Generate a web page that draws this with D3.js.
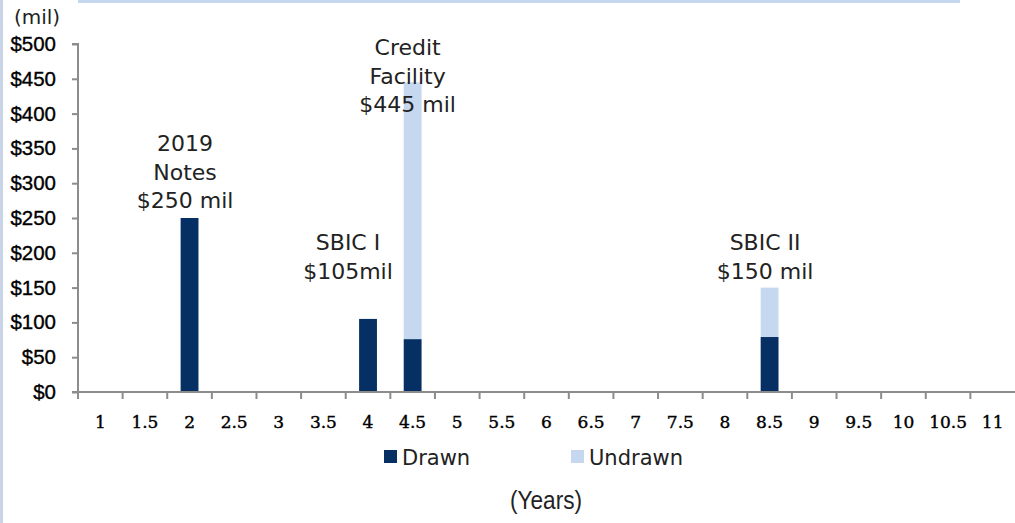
<!DOCTYPE html>
<html>
<head>
<meta charset="utf-8">
<script src="https://cdn.jsdelivr.net/npm/d3@7"></script>
<style>
  body { margin: 0; background: #fff; }
  .axis path, .axis line { stroke: #8c8c8c; stroke-width: 2; }
  .ylab text { font-family: "Liberation Sans", Arial, sans-serif; font-size: 20.5px; fill: #000; stroke: #000; stroke-width: 0.35px; }
  .xlab text { font-family: "DejaVu Serif", serif; font-size: 17px; fill: #000; stroke: #000; stroke-width: 0.4px; }
  .note { font-family: "DejaVu Sans", sans-serif; font-size: 22px; fill: #222; }
</style>
</head>
<body>
<div class="chart"></div>
<script>
// Data
let years = ["1","1.5","2","2.5","3","3.5","4","4.5","5","5.5","6","6.5","7","7.5","8","8.5","9","9.5","10","10.5","11"];
let drawn =   [0,0,250,0,0,0,105,76,0,0,0,0,0,0,0,79,0,0,0,0,0];
let undrawn = [0,0,0,0,0,0,0,369,0,0,0,0,0,0,0,71,0,0,0,0,0];
let yTicks = [0,50,100,150,200,250,300,350,400,450,500];
let notes = [
  { year: "2", at: 346, lines: ["2019", "Notes", "$250 mil"], dx: -4.5 },
  { year: "4", at: 204, lines: ["SBIC I", "$105mil"], dx: -20 },
  { year: "4.5", at: 484, lines: ["Credit", "Facility", "$445 mil"], dx: -5 },
  { year: "8.5", at: 204, lines: ["SBIC II", "$150 mil"], dx: -4.5 }
];

let svgWidth = 1015;
let svgHeight = 523;
let margin = { top: 44, right: 0, bottom: 131, left: 78 };
let chartWidth = svgWidth - margin.left - margin.right;
let chartHeight = svgHeight - margin.top - margin.bottom;

let svg = d3.select(".chart")
  .append("svg")
  .attr("width", svgWidth)
  .attr("height", svgHeight);

// frame decorations
svg.append("rect").attr("x", 0).attr("y", 0).attr("width", 3).attr("height", svgHeight).attr("fill", "#c9d5e6");
svg.append("rect").attr("x", 78).attr("y", 0).attr("width", 882).attr("height", 3).attr("fill", "#c5d8ef");

let chart = svg.append("g")
  .attr("transform", `translate(${margin.left}, ${margin.top})`);

let xTick = d3.scaleBand().domain(years).range([0, chartWidth]);
let y = d3.scaleLinear().domain([0, 500]).range([chartHeight, 0]);

// bars
let stack = years.map((d, i) => ({ year: d, drawn: drawn[i], undrawn: undrawn[i] }));
let series = d3.stack().keys(["drawn", "undrawn"])(stack);
let colors = { drawn: "#062f63", undrawn: "#c5d8ef" };

chart.selectAll("g.series")
  .data(series)
  .enter().append("g")
  .attr("fill", d => colors[d.key])
  .selectAll("rect")
  .data(d => d.filter(p => p[1] > p[0]))
  .enter().append("rect")
  .attr("x", d => xTick(d.data.year) + xTick.bandwidth() * 0.3)
  .attr("width", xTick.bandwidth() * 0.4)
  .attr("y", d => y(d[1]))
  .attr("height", d => y(d[0]) - y(d[1]));

// y axis
let leftAxis = d3.axisLeft(y).tickValues(yTicks).tickSize(6).tickPadding(16).tickFormat(d => "$" + d);
let gy = chart.append("g").attr("class", "axis ylab").call(leftAxis);
gy.select(".domain").attr("d", `M-6,0H0V${chartHeight}H-6`);

// x axis (ticks between categories)
let gx = chart.append("g").attr("class", "axis xlab")
  .attr("transform", `translate(0, ${chartHeight})`);
gx.append("path").attr("class", "domain").attr("d", `M0,0H${chartWidth}`).attr("fill", "none");
gx.selectAll("line")
  .data(years)
  .enter().append("line")
  .attr("x1", d => xTick(d)).attr("x2", d => xTick(d))
  .attr("y1", 0).attr("y2", 7);
gx.selectAll("text")
  .data(years)
  .enter().append("text")
  .attr("x", d => xTick(d) + xTick.bandwidth() / 2)
  .attr("y", 36)
  .attr("text-anchor", "middle")
  .text(d => d);

// annotations
notes.forEach(function(n) {
  let cx = xTick(n.year) + xTick.bandwidth() / 2 + n.dx;
  let t = chart.append("text").attr("class", "note").attr("text-anchor", "middle");
  n.lines.forEach(function(l, i) {
    t.append("tspan").attr("x", cx).attr("y", y(n.at) + i * 28.5).text(l);
  });
});

// unit label
svg.append("text")
  .attr("x", 37).attr("y", 24)
  .attr("text-anchor", "middle")
  .attr("class", "note")
  .style("font-size", "20px")
  .text("(mil)");

// legend
let legend = [{ key: "drawn", label: "Drawn", x: 384 }, { key: "undrawn", label: "Undrawn", x: 571 }];
let lg = svg.selectAll("g.legend")
  .data(legend)
  .enter().append("g")
  .attr("transform", d => `translate(${d.x}, 450)`);
lg.append("rect").attr("width", 13).attr("height", 13).attr("fill", d => colors[d.key]);
lg.append("text")
  .attr("x", 18).attr("y", 15)
  .attr("class", "note")
  .style("font-size", "21px")
  .text(d => d.label);

// x axis title
svg.append("text")
  .attr("x", 546).attr("y", 509)
  .attr("text-anchor", "middle")
  .attr("textLength", 72)
  .attr("lengthAdjust", "spacingAndGlyphs")
  .style("font-family", "'Liberation Sans Narrow', 'Liberation Sans', sans-serif")
  .style("font-size", "25px")
  .attr("fill", "#222")
  .text("(Years)");
</script>
</body>
</html>
